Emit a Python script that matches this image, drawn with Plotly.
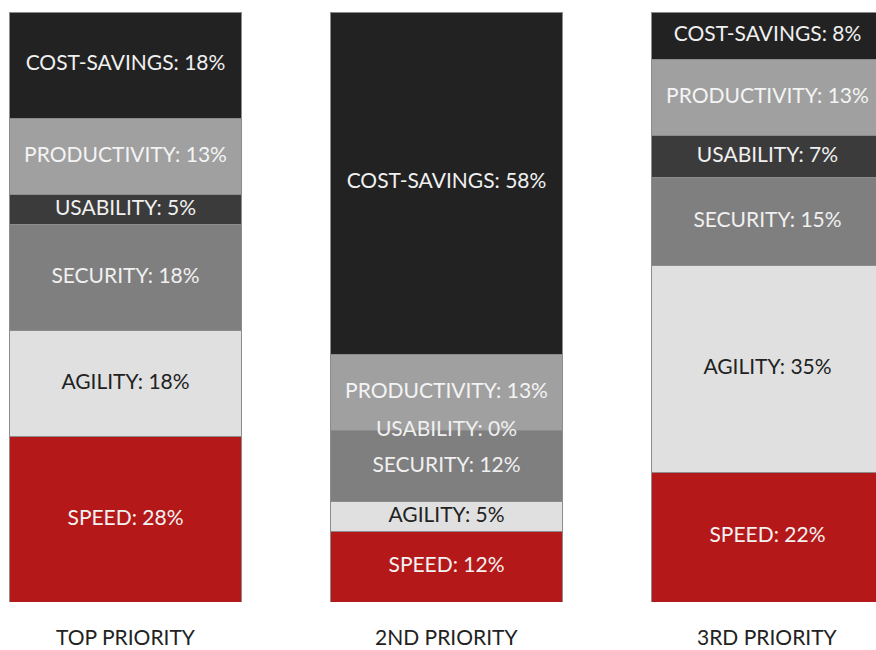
import plotly.graph_objects as go

categories = ["TOP PRIORITY", "2ND PRIORITY", "3RD PRIORITY"]
segments = ["SPEED", "AGILITY", "SECURITY", "USABILITY", "PRODUCTIVITY", "COST-SAVINGS"]
speed = [28, 12, 22]
agility = [18, 5, 35]
security = [18, 12, 15]
usability = [5, 0, 7]
productivity = [13, 13, 13]
cost_savings = [18, 58, 8]

series = [speed, agility, security, usability, productivity, cost_savings]
colors = ["#b51818", "#e0e0e0", "#7f7f7f", "#3b3b3b", "#a0a0a0", "#222222"]
text_colors = ["#f2f2f2", "#222222", "#f0f0f0", "#f0f0f0", "#f4f4f4", "#f0f0f0"]

xpos = [0, 1, 2]
fig = go.Figure()
for name, vals, c in zip(segments, series, colors):
    fig.add_trace(go.Bar(
        x=xpos, y=vals, name=name, width=0.72,
        marker=dict(color=c, line=dict(color="#8c8c8c", width=1)),
        hoverinfo="skip", showlegend=False,
    ))

# labels at segment midpoints
base = [0, 0, 0]
for name, vals, tc in zip(segments, series, text_colors):
    mids = [b + v / 2 for b, v in zip(base, vals)]
    fig.add_trace(go.Scatter(
        x=xpos, y=mids, mode="text",
        text=[f"{name}: {v}%" for v in vals],
        textfont=dict(family="Lato, sans-serif", size=21, color=tc),
        hoverinfo="skip", showlegend=False, cliponaxis=False,
    ))
    base = [b + v for b, v in zip(base, vals)]

for i, cat in enumerate(categories):
    fig.add_annotation(x=xpos[i], y=-0.058, xref="x", yref="paper",
                       text=cat, showarrow=False, yanchor="middle",
                       font=dict(family="Lato, sans-serif", size=21, color="#222222"))

fig.update_layout(
    barmode="stack",
    width=876, height=650,
    margin=dict(l=0, r=0, t=12, b=48),
    paper_bgcolor="white", plot_bgcolor="white",
    xaxis=dict(range=[-0.391, 2.338], visible=False),
    yaxis=dict(range=[0, 100], visible=False),
)
fig.write_html("out.html",
               config={"displayModeBar": False},
               post_script="document.body.style.margin='0';document.body.style.overflow='hidden';")
